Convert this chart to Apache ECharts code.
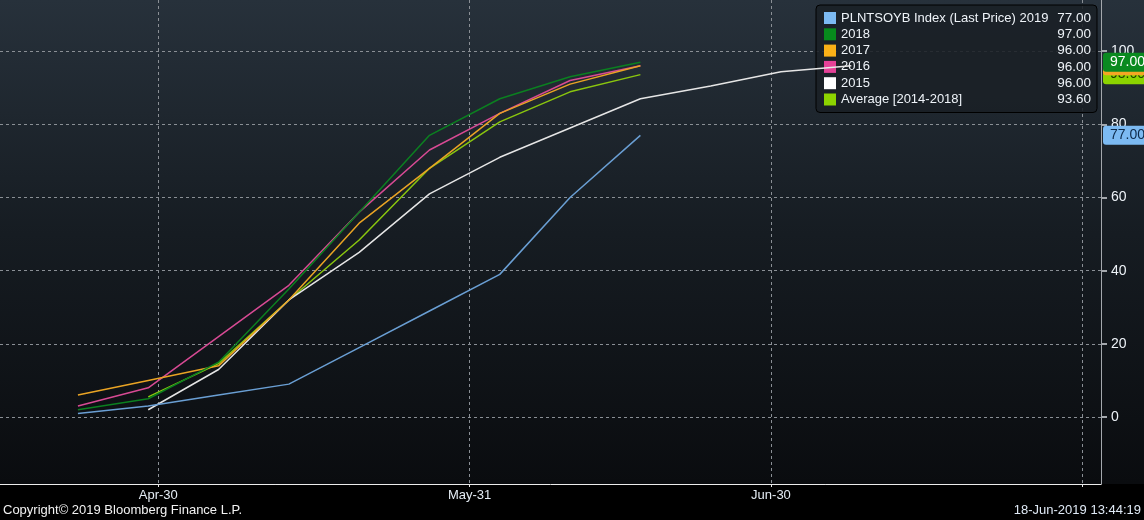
<!DOCTYPE html>
<html><head><meta charset="utf-8">
<script src="https://cdn.jsdelivr.net/npm/echarts@6/dist/echarts.min.js"></script>
<style>html,body{margin:0;padding:0;background:#000;}#c{width:1144px;height:520px;}</style>
</head><body><div id="c"></div>
<script>
// ---- data ----
const weekDates = ['2019-04-22','2019-04-29','2019-05-06','2019-05-13','2019-05-20','2019-05-27','2019-06-03','2019-06-10','2019-06-17','2019-06-24','2019-07-01','2019-07-08'];
const seriesNames = ['PLNTSOYB Index (Last Price) 2019','2018','2017','2016','2015','Average [2014-2018]'];
const s2019 = [1,3,6,9,19,29,39,60,77];
const s2018 = [2,5,15,35,56,77,87,93,97];
const s2017 = [6,10,14,32,53,68,83,91,96];
const s2016 = [3,8,22,36,56,73,83,92,96];
const s2015 = [null,2,13,32,45,61,71,79,87,90.5,94.4,96];
const sAvg  = [null,5.5,14.6,32,48.4,68,80.7,88.9,93.6];
const legendValues = ['77.00','97.00','96.00','96.00','96.00','93.60'];
const xTickDates = ['2019-04-30','2019-05-31','2019-06-30','2019-07-31'];
const xLabelDates = ['2019-04-30','2019-05-31','2019-06-30'];
const yTickValues = [0,20,40,60,80,100];
const copyrightText = 'Copyright\u00A9 2019 Bloomberg Finance L.P.';
const stampText = '18-Jun-2019 13:44:19';

// ---- build ----
const DAY = 86400000;
const d = s => new Date(s + 'T00:00:00').getTime();
const MON = ['Jan','Feb','Mar','Apr','May','Jun','Jul','Aug','Sep','Oct','Nov','Dec'];
const FONT = 'Liberation Sans, Arial, sans-serif';
const toPts = arr => arr.map((v,i)=>[d(weekDates[i]), v]).filter(p=>p[1]!=null);
const allSeries = [s2019,s2018,s2017,s2016,s2015,sAvg];
const lineColors = ['#6a9fd4','#0b8020','#eaa424','#d84a94','#e6e6e6','#8ac60e'];
const iconColors = ['#7cbaf2','#078a1c','#fbb117','#e54197','#ffffff','#8dd400'];
const tagStyle = [
  {bg:'#7cbaf2', fg:'#0d2a4a', z:5},
  {bg:'#0a8a20', fg:'#ffffff', z:8},
  {bg:'#f5a623', fg:'#3a2500', z:7},
  null, null,
  {bg:'#8cd400', fg:'#1d3a00', z:6}
];

const chart = echarts.init(document.getElementById('c'), null, {renderer:'canvas'});
const xMin = d('2019-04-30') - 15.76*DAY;
const xMax = d('2019-04-30') + 93.86*DAY;

const series = allSeries.map((arr,i)=>{
  const pts = toPts(arr);
  const s = {
    name: seriesNames[i], type:'line', data: pts, showSymbol:false, symbol:'none',
    animation:false, z: 10 - i, clip:false,
    lineStyle:{color: lineColors[i], width:1.5},
    itemStyle:{color: iconColors[i]}
  };
  const t = tagStyle[i];
  if (t) {
    const last = pts[pts.length-1][1];
    s.markLine = {
      silent:true, symbol:'none', animation:false, z:t.z,
      lineStyle:{color:'rgba(0,0,0,0)', width:0},
      label:{show:true, position:'end', distance:2, formatter: last.toFixed(2), opacity:1,
        backgroundColor:t.bg, color:t.fg, padding:[3,4,2,7], lineHeight:14, fontSize:14, fontFamily:FONT, borderRadius:3},
      data:[{yAxis:last}]
    };
  }
  return s;
});

const option = {
  backgroundColor: {type:'linear', x:0, y:0, x2:0, y2:1, colorStops:[
    {offset:0, color:'#27313b'},{offset:0.45, color:'#161c22'},{offset:0.93, color:'#0a0c0f'},
    {offset:0.9305, color:'#000'},{offset:1, color:'#000'}]},
  animation:false,
  grid:{left:0, right:43, top:0, bottom:36, containLabel:false},
  title:[
    {text:copyrightText, left:3, top:504, padding:0, textStyle:{color:'#f2f2f2', fontSize:13, fontWeight:'normal', fontFamily:FONT}},
    {text:stampText, right:3, top:504, padding:0, textStyle:{color:'#dfe9f5', fontSize:13, fontWeight:'normal', fontFamily:FONT}}
  ],
  legend:{
    orient:'vertical', left:816, top:5, icon:'rect', itemWidth:12, itemHeight:12, itemGap:2.3,
    backgroundColor:'rgba(26,32,38,0.88)', borderColor:'#000', borderWidth:1, borderRadius:4,
    padding:[6,6,6,8],
    data: seriesNames,
    formatter: name => '{n|' + name + '}{v|' + legendValues[seriesNames.indexOf(name)] + '}',
    textStyle:{color:'#eef3f8', fontSize:13, fontFamily:FONT, rich:{
      n:{width:212, fontSize:13, lineHeight:14, color:'#eef3f8', fontFamily:FONT},
      v:{width:38, align:'right', fontSize:13.5, lineHeight:14, color:'#eef3f8', fontFamily:FONT}
    }},
    selectedMode:false
  },
  xAxis:{
    type:'value', min:xMin, max:xMax,
    axisLine:{show:true, onZero:false, lineStyle:{color:'#ececec', width:1}},
    axisTick:{show:true, length:3, lineStyle:{color:'#ececec'}, customValues: xTickDates.map(d)},
    axisLabel:{show:true, margin:5, color:'#e4ecf4', fontSize:13, fontFamily:FONT,
      customValues: xLabelDates.map(d),
      formatter: v => { const t = new Date(v); return MON[t.getMonth()] + '-' + String(t.getDate()).padStart(2,'0'); }},
    splitLine:{show:true, lineStyle:{color:'#8a8f95', type:[3,3], width:1}}
  },
  yAxis:{
    type:'value', position:'right', min:-18.3, max:114,
    axisLine:{show:true, lineStyle:{color:'#a4a8ad'}},
    axisTick:{show:true, length:6, inside:false, lineStyle:{color:'#a4a8ad', width:2}, customValues: yTickValues},
    minorTick:{show:false},
    axisLabel:{show:true, margin:10, color:'#eef3f8', fontSize:14, fontFamily:FONT, customValues: yTickValues},
    splitLine:{show:true, lineStyle:{color:'#8a8f95', type:[3,3], width:1}}
  },
  series: series
};
chart.setOption(option);
</script></body></html>
